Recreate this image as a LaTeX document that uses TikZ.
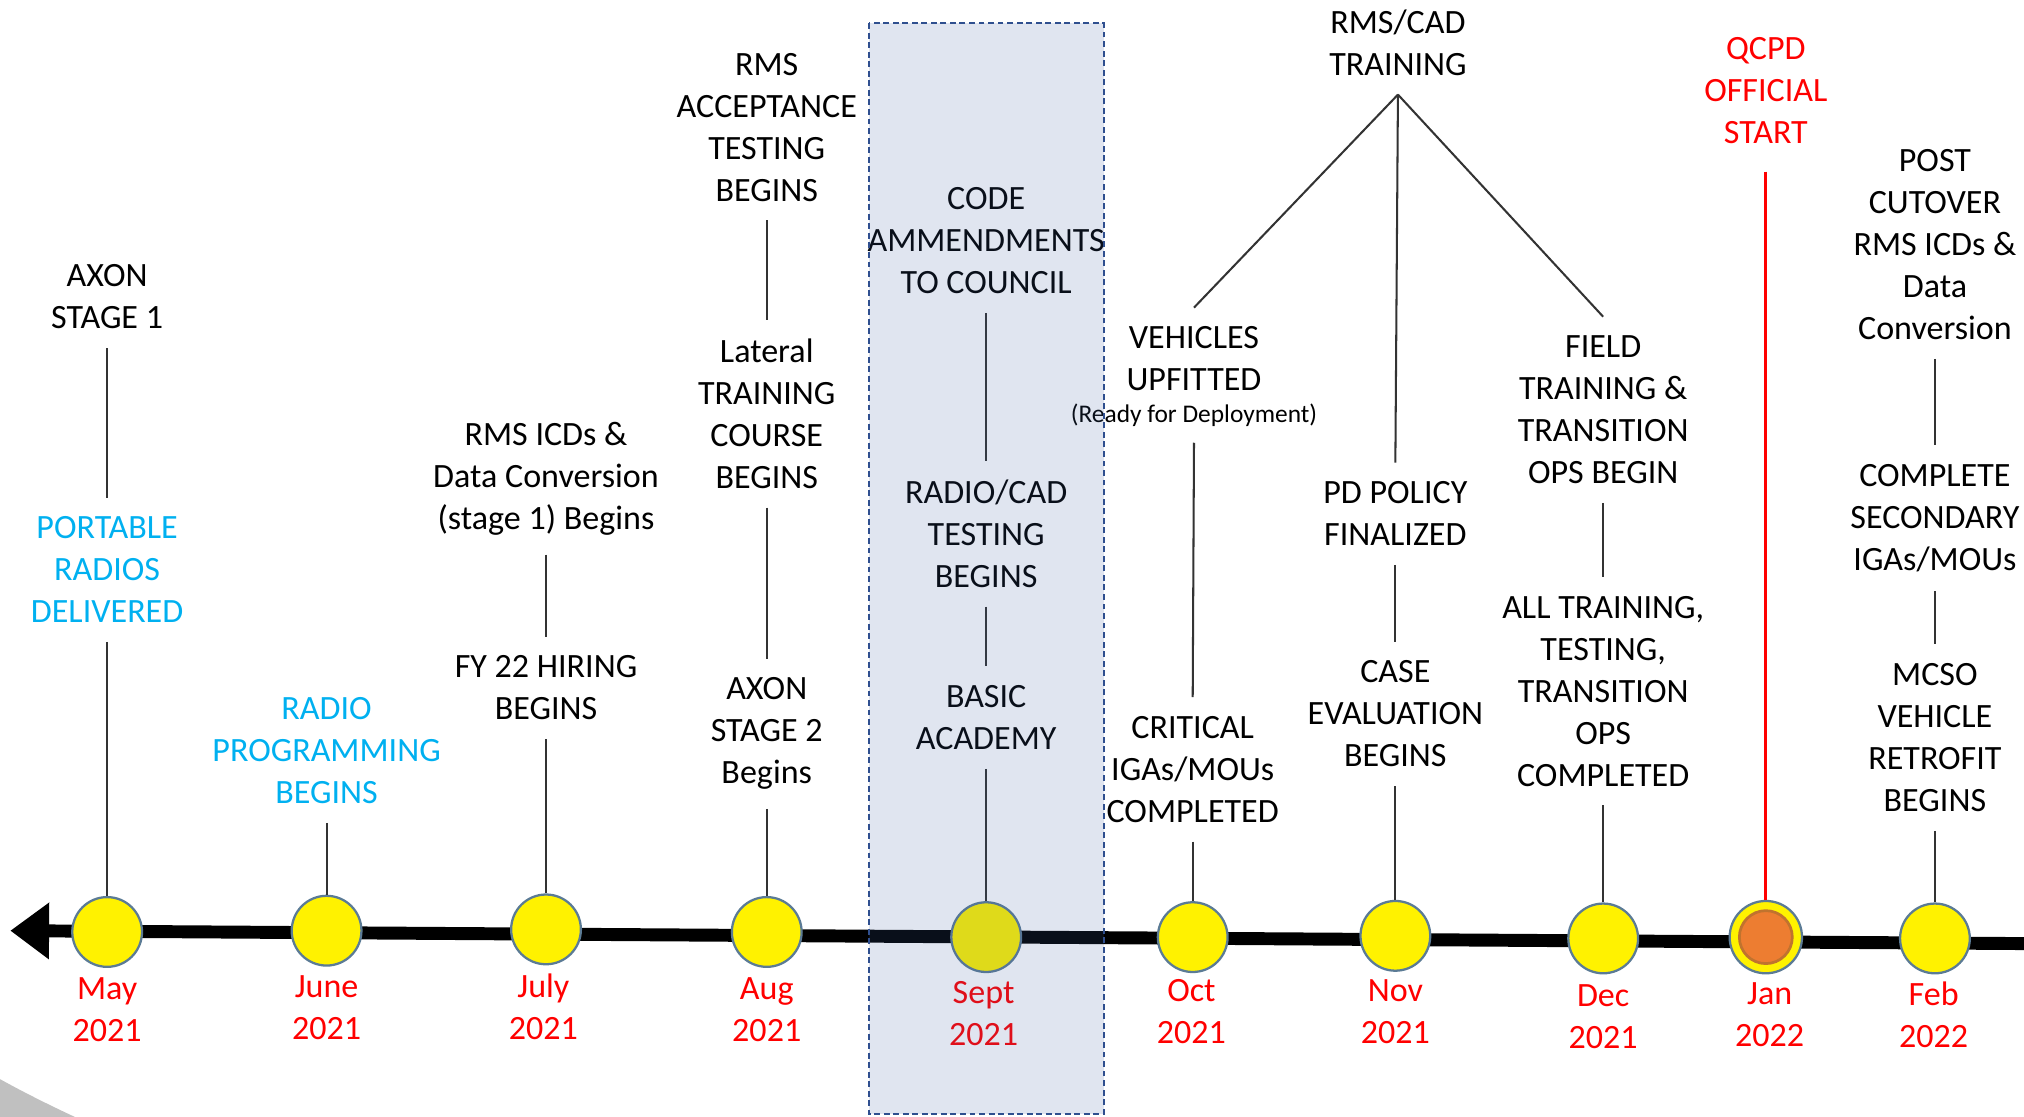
\documentclass[tikz,border=0pt]{standalone}
\usepackage{fontspec}
\setmainfont{Carlito}
\usetikzlibrary{arrows.meta}
\definecolor{tblue}{HTML}{00B0F0}
\definecolor{tred}{HTML}{FF0000}
\definecolor{dotedge}{HTML}{5B7B95}
\definecolor{boxfill}{RGB}{62,94,162}
\definecolor{boxedge}{HTML}{2F4F8F}
\definecolor{janorange}{HTML}{ED7D31}
\definecolor{janedge}{HTML}{C0732E}
\definecolor{cornergray}{HTML}{C0C0C0}
\begin{document}
\begin{tikzpicture}[x=0.01cm,y=-0.01cm,
  lbl/.style={align=center, font=\fontsize{7.5}{9.25}\selectfont, inner xsep=0pt, inner ysep=4pt},
  bluelbl/.style={lbl, text=tblue},
  redlbl/.style={lbl, text=tred},
  monthlbl/.style={lbl, text=tred, inner ysep=0pt},
  smalllbl/.style={align=center, font=\fontsize{5.6}{6.8}\selectfont, inner xsep=0pt, inner ysep=4pt},
  dot/.style={circle, minimum size=0.54cm, inner sep=0pt, fill=yellow, draw=dotedge, line width=0.5pt},
  conn/.style={draw=black!80, line width=0.45pt},
  redconn/.style={draw=tred, line width=0.7pt},
  axisline/.style={line width=2.85pt, -{Triangle[length=0.3cm,width=0.42cm]}},
]
\useasboundingbox (0,0) rectangle (1568,865.3);

% corner shape
\fill[cornergray] (0,836) .. controls (18,846) and (38,856) .. (58,865.3) -- (0,865.3) -- cycle;

% axis
\coordinate (axR) at (1568,731);
\coordinate (axL) at (8,721);
\draw[axisline] (axR) -- (axL);

% dots
\node[dot] (may) at (83,722) {};
\node[dot] (jun) at (253,721) {};
\node[dot] (jul) at (423,720) {};
\node[dot] (aug) at (594,722) {};
\node[dot] (sep) at (764,726) {};
\node[dot] (oct) at (924,726) {};
\node[dot] (nov) at (1081,725) {};
\node[dot] (dec) at (1242,727) {};
\node[dot, minimum size=0.56cm] (jan) at (1368,726) {};
\node[circle, minimum size=0.41cm, inner sep=0pt, fill=janorange, draw=janedge, line width=0.6pt] (janin) at (1368,726) {};
\node[dot] (feb) at (1499,727) {};

% month labels
\node[monthlbl] (maylab) at (83,782) {May\\2021};
\node[monthlbl] (junlab) at (253,781) {June\\2021};
\node[monthlbl] (jullab) at (421,780) {July\\2021};
\node[monthlbl] (auglab) at (594,782) {Aug\\2021};
\node[monthlbl] (seplab) at (762,785) {Sept\\2021};
\node[monthlbl] (octlab) at (923,784) {Oct\\2021};
\node[monthlbl] (novlab) at (1081,784) {Nov\\2021};
\node[monthlbl] (declab) at (1242,788) {Dec\\2021};
\node[monthlbl] (janlab) at (1371,786) {Jan\\2022};
\node[monthlbl] (feblab) at (1498,786) {Feb\\2022};

% May column
\node[lbl] (axon1) at (83,230) {AXON\\STAGE 1};
\node[bluelbl] (portable) at (83,441.5) {PORTABLE\\RADIOS\\DELIVERED};
\draw[conn] (axon1.south) -- (portable.north);
\draw[conn] (portable.south) -- (may.north);

% June column
\node[bluelbl] (radioprog) at (253,581.5) {RADIO\\PROGRAMMING\\BEGINS};
\draw[conn] (radioprog.south) -- (jun.north);

% July column
\node[lbl] (rmsicd) at (423,371) {RMS ICDs \&\\Data Conversion\\(stage 1) Begins};
\node[lbl] (fy22) at (423,533) {FY 22 HIRING\\BEGINS};
\draw[conn] (rmsicd.south) -- (fy22.north);
\draw[conn] (fy22.south) -- (jul.north);

% Aug column
\node[lbl] (rmsacc) at (594,98.5) {RMS\\ACCEPTANCE\\TESTING\\BEGINS};
\node[lbl] (lateral) at (594,320.5) {Lateral\\TRAINING\\COURSE\\BEGINS};
\node[lbl] (axon2) at (594,568.5) {AXON\\STAGE 2\\Begins};
\draw[conn] (rmsacc.south) -- (lateral.north);
\draw[conn] (lateral.south) -- (axon2.north);
\draw[conn] (axon2.south) -- (aug.north);

% Sept column
\node[lbl] (code) at (764,186.5) {CODE\\AMMENDMENTS\\TO COUNCIL};
\node[lbl] (radiocad) at (764,413.5) {RADIO/CAD\\TESTING\\BEGINS};
\node[lbl] (basic) at (764,556) {BASIC\\ACADEMY};
\draw[conn] (code.south) -- (radiocad.north);
\draw[conn] (radiocad.south) -- (basic.north);
\draw[conn] (basic.south) -- (sep.north);

% RMS/CAD training
\node[lbl] (rmscad) at (1083,33) {RMS/CAD\\TRAINING};

% Oct column
\node[lbl] (vehicles) at (925,278) {VEHICLES\\UPFITTED};
\node[smalllbl, inner ysep=1pt] (ready) at (925,322) {(Ready for Deployment)};
\coordinate (readybot) at (925,343);
\node[lbl] (critical) at (924,596) {CRITICAL\\IGAs/MOUs\\COMPLETED};
\draw[conn] (readybot) -- (critical.north);
\draw[conn] (critical.south) -- (oct.north);

% Nov column
\node[lbl] (pdpolicy) at (1081,398) {PD POLICY\\FINALIZED};
\node[lbl] (caseeval) at (1081,553) {CASE\\EVALUATION\\BEGINS};
\draw[conn] (pdpolicy.south) -- (caseeval.north);
\draw[conn] (caseeval.south) -- (nov.north);

% Dec column
\node[lbl] (field) at (1242,317.5) {FIELD\\TRAINING \&\\TRANSITION\\OPS BEGIN};
\node[lbl] (alltrain) at (1242,535.5) {ALL TRAINING,\\TESTING,\\TRANSITION\\OPS\\COMPLETED};
\draw[conn] (field.south) -- (alltrain.north);
\draw[conn] (alltrain.south) -- (dec.north);

% fan from RMS/CAD
\draw[conn] (rmscad.south) -- (vehicles.north);
\draw[conn] (rmscad.south) -- (pdpolicy.north);
\draw[conn] (rmscad.south) -- (field.north);

% Jan column
\node[redlbl] (qcpd) at (1368,70.5) {QCPD\\OFFICIAL\\START};
\coordinate (qcpdbot) at (1368,133);
\draw[redconn] (qcpdbot) -- (jan.north);

% Feb column
\node[lbl] (post) at (1499,189.5) {POST\\CUTOVER\\RMS ICDs \&\\Data\\Conversion};
\node[lbl] (complete) at (1499,401.5) {COMPLETE\\SECONDARY\\IGAs/MOUs};
\node[lbl] (mcso) at (1499,571.5) {MCSO\\VEHICLE\\RETROFIT\\BEGINS};
\draw[conn] (post.south) -- (complete.north);
\draw[conn] (complete.south) -- (mcso.north);
\draw[conn] (mcso.south) -- (feb.north);

% highlight box
\draw[draw=boxedge, line width=0.5pt, dash pattern=on 1.3pt off 0.8pt, fill=boxfill, fill opacity=0.16] (673,18) rectangle (855,863);
\end{tikzpicture}
\end{document}
